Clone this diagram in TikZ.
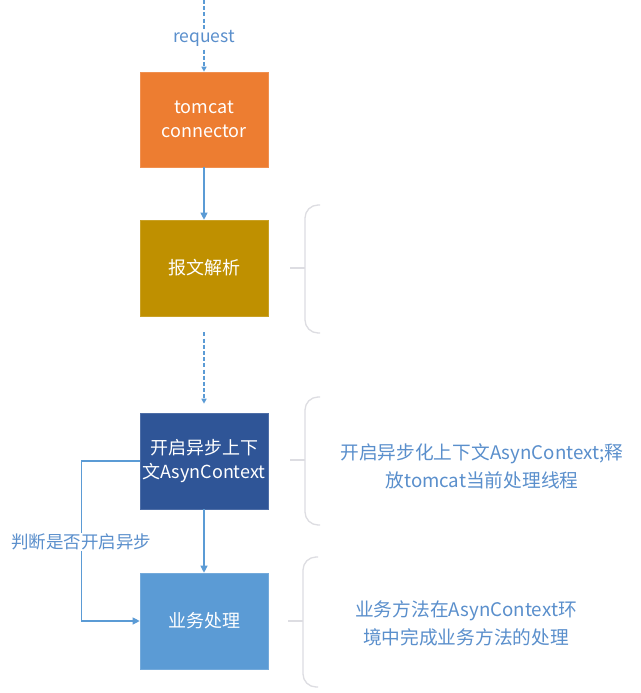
\documentclass[tikz,border=0pt]{standalone}
\usepackage{fontspec}
\setmainfont{Noto Sans CJK SC}
\usetikzlibrary{arrows.meta}
\definecolor{cOrange}{HTML}{ED7D31}
\definecolor{cGold}{HTML}{BF9000}
\definecolor{cDark}{HTML}{2F5597}
\definecolor{cLight}{HTML}{5B9BD5}
\definecolor{cLine}{HTML}{5B9BD5}
\definecolor{cText}{HTML}{5A8FCC}
\definecolor{cBrace}{HTML}{DDDDE2}
\tikzset{
  stepbox/.style={rectangle, minimum width=128pt, minimum height=96pt, inner sep=2pt,
    text=white, align=center, font=\fontsize{18}{24}\selectfont},
  conn/.style={draw=cLine, line width=1.1pt, -{Triangle[length=7pt,width=7pt]}},
  dconn/.style={conn, line width=1.8pt, dash pattern=on 4pt off 2.2pt, -{Triangle[length=5pt,width=5pt]}},
  lbl/.style={text=cText, fill=white, inner sep=1pt, font=\fontsize{17.5}{23}\selectfont},
  note/.style={text=cText, align=center, font=\fontsize{18.7}{28}\selectfont},
  bracepath/.style={draw=cBrace, line width=1.3pt, rounded corners=13pt},
}
\begin{document}
\begin{tikzpicture}[x=1pt,y=-1pt]
\useasboundingbox (0,0) rectangle (640,693);
\fill[white] (0,0) rectangle (640,693);

% boxes
\node[stepbox, fill=cOrange, draw=cOrange!85!white, line width=0.6pt, minimum height=95pt] (b1) at (204,119.5) {tomcat\\connector};
\node[stepbox, fill=cGold, draw=cGold!85!white, line width=0.6pt] (b2) at (204,268) {报文解析};
\node[stepbox, fill=cDark, draw=cDark!85!white, line width=0.6pt] (b3) at (204,461) {开启异步上下\\文AsynContext};
\node[stepbox, fill=cLight, draw=cLight!85!white, line width=0.6pt] (b4) at (204,621) {业务处理};

% connectors
\coordinate (top) at (204,0);
\draw[dconn] (top) -- node[lbl, yshift=-3pt]{request} (b1.north);
\draw[conn] (b1.south) -- (b2.north);
\draw[dconn, shorten <=16pt, shorten >=9pt] (b2.south) -- (b3.north);
\draw[conn] (b3.south) -- (b4.north);
\draw[conn] (b3.west) -- ++(-58,0) |- (b4.west);
\node[lbl] (judge) at (81,542) {判断是否开启异步};

% braces
\draw[bracepath] (320,205) -- (305,205) -- (305,333) -- (320,333);
\draw[draw=cBrace, line width=1.3pt] (290,268) -- (305,268);
\draw[bracepath] (320,397) -- (305,397) -- (305,525) -- (320,525);
\draw[draw=cBrace, line width=1.3pt] (290,460) -- (305,460);
\draw[bracepath] (318,557) -- (303,557) -- (303,687) -- (318,687);
\draw[draw=cBrace, line width=1.3pt] (288,621) -- (303,621);

% notes
\node[note] (n1) at (482,466) {开启异步化上下文AsynContext;释\\放tomcat当前处理线程};
\node[note] (n2) at (466,623.5) {业务方法在AsynContext环\\境中完成业务方法的处理};
\end{tikzpicture}
\end{document}
